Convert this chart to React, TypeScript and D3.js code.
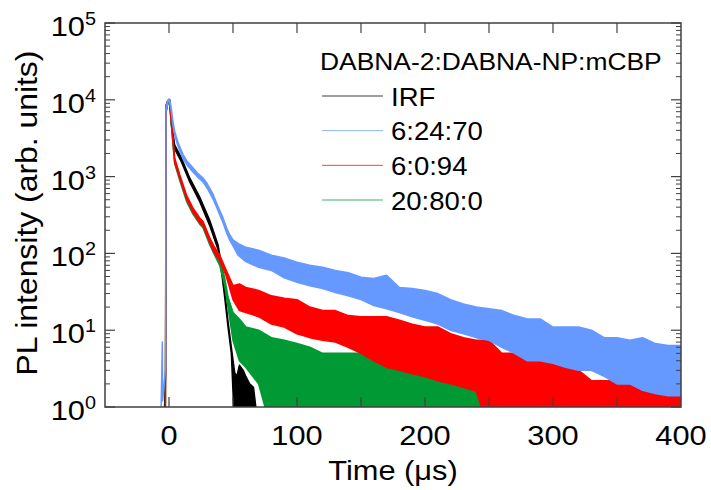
import React from "react";
import * as d3 from "d3";

// PL decay, DABNA-2:DABNA-NP:mCBP — envelopes of the noisy traces
const W = 711;
const H = 490;
const PLOT = { left: 105, right: 681, top: 23, bottom: 407 };

const xTicks = [0, 100, 200, 300, 400];
const xMinorTicks = [0, 50, 100, 150, 200, 250, 300, 350];
const yExponents = [0, 1, 2, 3, 4, 5];

const legendTitle = "DABNA-2:DABNA-NP:mCBP";

// IRF
const irfTime = [-4, -2.6, -2.3, -1, 0.5, 1.9, 4.4, 9.7, 16.2, 24, 31.8, 38.3, 40.9, 43.5, 46.1, 48.7, 51.3, 53, 55, 58, 60, 63, 66, 70];
const irfHigh = [0.5, 3, 8500, 9700, 10000, 5200, 2600, 1750, 960, 540, 270, 130, 72, 33, 13, 6, 2.8, 2.5, 3.5, 3, 2.5, 2, 1.8, 0.5];
const irfLow = [0.5, 3, 7500, 9100, 9400, 4700, 2300, 1550, 850, 470, 230, 112, 60, 27, 11, 5, 0.5, 0.5, 0.5, 0.5, 0.5, 0.5, 0.5, 0.5];

// 6:24:70
const blueTime = [-6.5, -5.2, -5, -2.6, -2.3, -1, 0, 1, 2, 3, 4.4, 7, 10.9, 14, 18.7, 22, 26.6, 30, 34.4, 38, 42.2, 45, 47.4, 50, 53.9,
  60, 70, 80, 90, 100, 110, 120, 130, 140, 150, 160, 170, 180, 190, 200, 210, 220, 230, 240, 250, 260, 270, 280, 290, 300, 310, 320, 330, 340, 350, 360, 370, 380, 390, 400];
const blueHigh = [0.5, 7, 1.2, 3.3, 8000, 9800, 10300, 9300, 7300, 5300, 3900, 2800, 1950, 1600, 1300, 1120, 960, 800, 590, 420, 290, 215, 175, 150, 135,
  120, 110, 95, 87, 77, 70, 66, 60, 56, 49, 47, 52, 36, 35, 33, 30, 25, 22, 20, 19, 18, 15.5, 14, 14, 11, 11, 11, 10, 8, 8, 7.4, 8, 6.7, 6.3, 6.3];
const blueLow = [0.5, 7, 1.2, 3.3, 7000, 9200, 9700, 8500, 6600, 4800, 3500, 2500, 1720, 1420, 1150, 1000, 850, 700, 510, 370, 250, 185, 150, 125, 95,
  78, 66, 60, 48, 42, 38, 35, 31, 28, 25, 21, 19, 17, 15, 13.5, 12, 10, 9, 8, 7.4, 6, 5, 4, 4, 3.7, 3.3, 3, 3, 2.5, 2, 2, 1.65, 1.5, 1.4, 1.4];

// 6:0:94
const redTime = [-2.8, -2.3, -1, 0.5, 1.5, 2.6, 4.4, 8.4, 13.6, 18.7, 24, 26.6, 31.8, 35, 39.6, 44.8, 50, 55, 60,
  70, 80, 90, 100, 110, 120, 130, 140, 150, 160, 170, 180, 190, 200, 210, 220, 230, 240, 250, 260, 270, 280, 290, 300, 310, 320, 330, 340, 350, 360, 370, 380, 390, 400];
const redHigh = [0.5, 8000, 9600, 10000, 6500, 3900, 1750, 1060, 580, 390, 290, 260, 160, 125, 95, 60, 38, 40, 36,
  33, 28, 26, 25, 20, 18, 18, 15.5, 15, 15, 15, 13.5, 12, 11, 11, 9, 8, 7.4, 7.4, 5, 5, 5.5, 6.7, 4, 4, 3, 2.2, 2.2, 2.2, 2.2, 2.2, 2.2, 2.2, 2.2];
const redLow = [0.5, 7000, 9000, 9400, 5800, 3500, 1550, 950, 520, 345, 250, 230, 140, 105, 80, 50, 25, 18, 17,
  15, 12, 11, 9, 8, 7.4, 7, 6, 5, 4, 3.3, 3, 2.7, 2.5, 2.2, 2, 1.8, 1.6, 0.5, 0.5, 0.5, 0.5, 0.5, 0.5, 0.5, 0.5, 0.5, 0.5, 0.5, 0.5, 0.5, 0.5, 0.5, 0.5];

// 20:80:0
const greenTime = [-2.8, -2.3, -1, 0.5, 1.5, 2.6, 4.4, 8.4, 13.6, 18.7, 24, 26.6, 31.8, 35, 39.6, 43.5, 46.1, 50, 55, 60,
  70, 80, 90, 100, 110, 120, 130, 140, 150, 160, 170, 180, 190, 200, 210, 220, 230, 240, 250, 260, 265];
const greenHigh = [0.5, 7800, 9400, 9800, 6200, 3700, 1650, 990, 540, 365, 270, 240, 148, 115, 85, 48, 27, 17, 14, 11,
  10, 8, 7.4, 6.7, 6, 5, 5, 5, 5, 4, 4, 3.5, 3.3, 3, 3, 2.5, 2.2, 2, 2, 2, 0.5];
const greenLow = [0.5, 6800, 8800, 9200, 5600, 3300, 1480, 890, 480, 325, 240, 215, 130, 100, 70, 38, 20, 7.4, 4, 3.3,
  2, 0.5, 0.5, 0.5, 0.5, 0.5, 0.5, 0.5, 0.5, 0.5, 0.5, 0.5, 0.5, 0.5, 0.5, 0.5, 0.5, 0.5, 0.5, 0.5, 0.5];

const series = [
  { name: "IRF", color: "#000000", t: irfTime, hi: irfHigh, lo: irfLow, order: 0 },
  { name: "6:24:70", color: "#6699ff", t: blueTime, hi: blueHigh, lo: blueLow, order: 3 },
  { name: "6:0:94", color: "#ff0000", t: redTime, hi: redHigh, lo: redLow, order: 2 },
  { name: "20:80:0", color: "#009933", t: greenTime, hi: greenHigh, lo: greenLow, order: 1 },
];

const FONT = "'Liberation Sans', Arial, sans-serif";
const AXIS = "#404040";

function Txt(props: any) {
  const { x, y, size, anchor, rotate, children } = props;
  const tr = `translate(${x},${y})` + (rotate ? ` rotate(${rotate})` : "") + " scale(1.1,1)";
  return (
    <text transform={tr} fontSize={size} textAnchor={anchor || "start"} fontFamily={FONT} fill="#000">
      {children}
    </text>
  );
}

export default function App() {
  const x = d3.scaleLinear().domain([-50, 400]).range([PLOT.left, PLOT.right]);
  const y = d3.scaleLog().domain([1, 1e5]).range([PLOT.bottom, PLOT.top]);

  const area = d3
    .area<{ t: number; lo: number; hi: number }>()
    .x((d) => x(d.t))
    .y0((d) => y(d.lo))
    .y1((d) => y(d.hi));

  const drawOrder = [...series].sort((a, b) => a.order - b.order);

  const minor: number[] = [];
  for (let e = 0; e < 5; e++) for (let k = 2; k <= 9; k++) minor.push(k * Math.pow(10, e));

  return (
    <svg width={W} height={H} style={{ position: "absolute", left: 0, top: 0, background: "#fff" }}>
      <defs>
        <clipPath id="plot">
          <rect x={PLOT.left} y={PLOT.top} width={PLOT.right - PLOT.left} height={PLOT.bottom - PLOT.top} />
        </clipPath>
      </defs>

      <g clipPath="url(#plot)">
        {drawOrder.map((s) => {
          const pts = s.t.map((t, i) => ({ t, lo: s.lo[i], hi: s.hi[i] }));
          return (
            <path key={s.name} d={area(pts) || ""} fill={s.color} stroke={s.color}
              strokeWidth={1.5} strokeLinejoin="round" />
          );
        })}
      </g>

      {/* frame */}
      <rect x={PLOT.left} y={PLOT.top} width={PLOT.right - PLOT.left} height={PLOT.bottom - PLOT.top}
        fill="none" stroke={AXIS} strokeWidth={1.5} />

      {/* x ticks, inward on top and bottom */}
      {xMinorTicks.map((t) => (
        <g key={"xt" + t} stroke={AXIS} strokeWidth={1.2}>
          <line x1={x(t)} x2={x(t)} y1={PLOT.bottom} y2={PLOT.bottom - 10} />
          <line x1={x(t)} x2={x(t)} y1={PLOT.top} y2={PLOT.top + 10} />
        </g>
      ))}
      {xTicks.map((t) => (
        <Txt key={"xl" + t} x={x(t)} y={445} size={28} anchor="middle">{String(t)}</Txt>
      ))}

      {/* y ticks */}
      {yExponents.map((e) => (
        <g key={"yt" + e} stroke={AXIS} strokeWidth={1.2}>
          <line x1={PLOT.left} x2={PLOT.left + 10} y1={y(Math.pow(10, e))} y2={y(Math.pow(10, e))} />
          <line x1={PLOT.right} x2={PLOT.right - 10} y1={y(Math.pow(10, e))} y2={y(Math.pow(10, e))} />
        </g>
      ))}
      {minor.map((v) => (
        <g key={"ym" + v} stroke={AXIS} strokeWidth={1}>
          <line x1={PLOT.left} x2={PLOT.left + 5} y1={y(v)} y2={y(v)} />
          <line x1={PLOT.right} x2={PLOT.right - 5} y1={y(v)} y2={y(v)} />
        </g>
      ))}
      {yExponents.map((e) => (
        <Txt key={"yl" + e} x={96} y={y(Math.pow(10, e)) + 13} size={28} anchor="end">
          <tspan>10</tspan>
          <tspan dy={-11} fontSize={18}>{String(e)}</tspan>
        </Txt>
      ))}

      {/* axis titles */}
      <Txt x={(PLOT.left + PLOT.right) / 2} y={480} size={28} anchor="middle">Time (μs)</Txt>
      <Txt x={37} y={213} size={29} anchor="middle" rotate={-90}>PL intensity (arb. units)</Txt>

      {/* legend */}
      <Txt x={320} y={70} size={24}>{legendTitle}</Txt>
      {series.map((s, i) => {
        const ly = 96 + i * 34.67;
        return (
          <g key={"lg" + s.name}>
            <line x1={322} x2={383} y1={ly} y2={ly} stroke={s.color} strokeWidth={1} opacity={0.75} />
            <Txt x={391} y={ly + 9.5} size={25}>{s.name}</Txt>
          </g>
        );
      })}
    </svg>
  );
}
